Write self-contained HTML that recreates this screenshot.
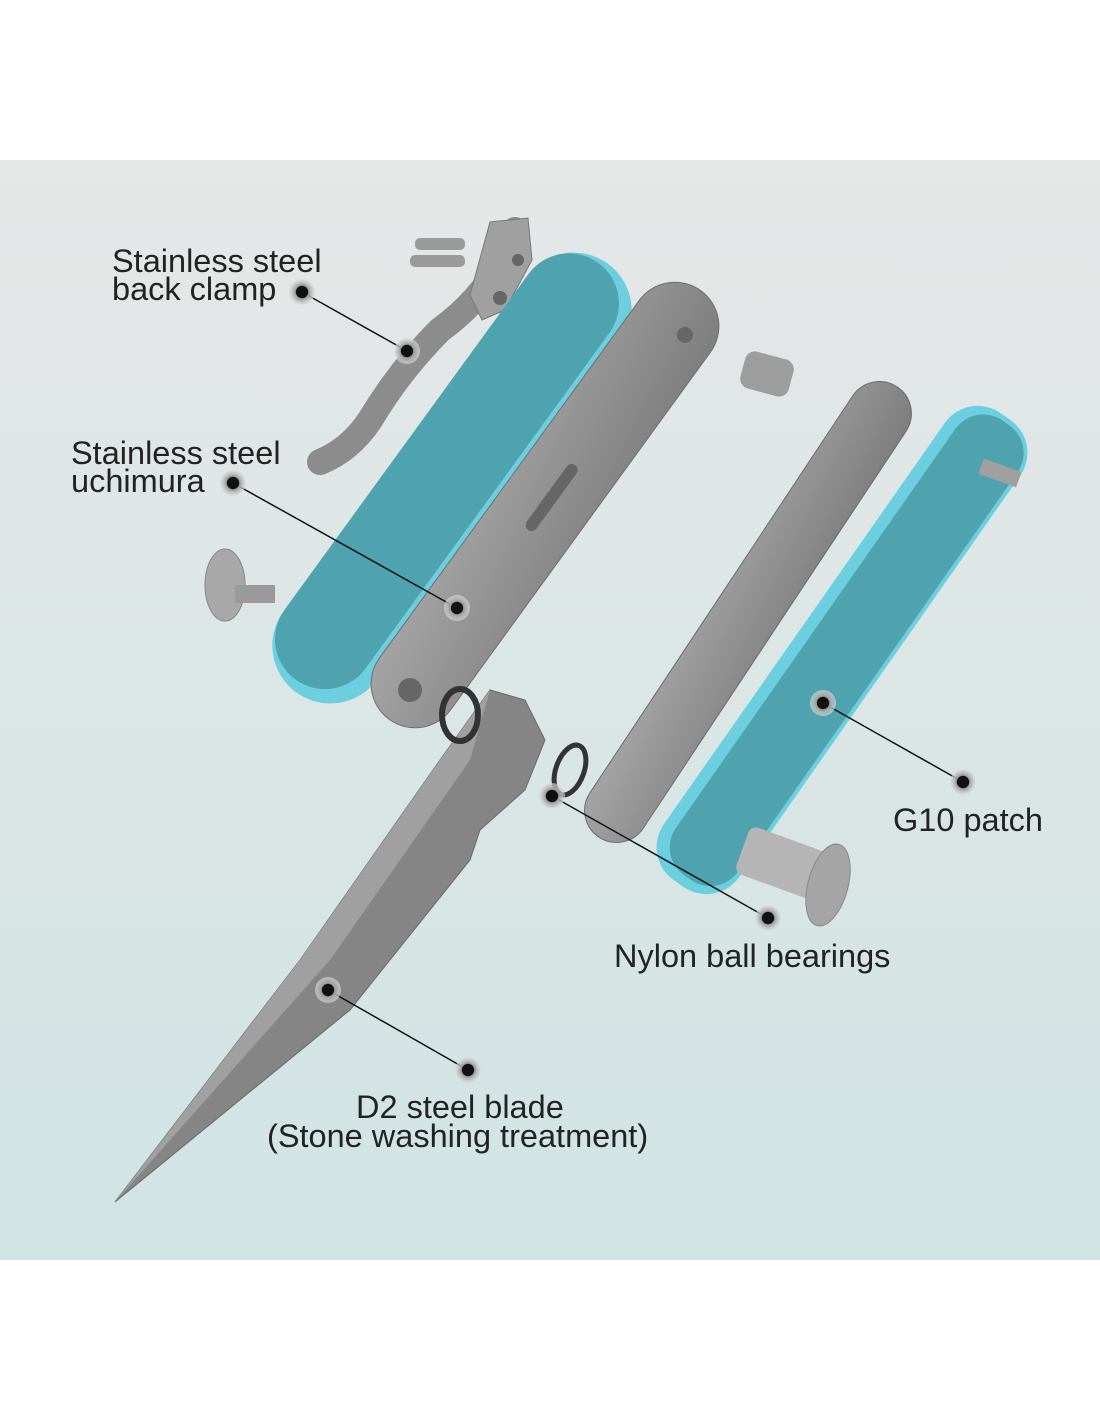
<!DOCTYPE html>
<html><head><meta charset="utf-8"><style>
html,body{margin:0;padding:0;background:#fff;}
svg{display:block}
text{font-family:"Liberation Sans",sans-serif;font-size:32.5px;fill:#222;}
</style></head><body>
<svg width="1100" height="1422" viewBox="0 0 1100 1422">
<defs>
<linearGradient id="bg" x1="0" y1="0" x2="0" y2="1">
<stop offset="0" stop-color="#e6e7e7"/><stop offset="1" stop-color="#d0e4e3"/></linearGradient>
<linearGradient id="steel" x1="0" y1="0" x2="1" y2="1">
<stop offset="0" stop-color="#a5a5a5"/><stop offset="1" stop-color="#7d7d7d"/></linearGradient>
<radialGradient id="ring"><stop offset="0.45" stop-color="#111"/><stop offset="0.5" stop-color="#999"/><stop offset="1" stop-color="#ddd" stop-opacity="0.6"/></radialGradient>
</defs>
<rect x="0" y="160" width="1100" height="1100" fill="url(#bg)"/>
<!-- clip -->
<path d="M515,230 Q495,290 440,330 Q400,370 370,420 Q350,450 320,462" fill="none" stroke="#8c8c8c" stroke-width="26" stroke-linecap="round"/>
<path d="M490,222 L528,218 L532,260 L505,310 L482,320 L470,295 Z" fill="#a0a0a0" stroke="#777"/>
<circle cx="500" cy="298" r="7" fill="#666"/><circle cx="518" cy="260" r="6" fill="#666"/>
<g fill="#9a9a9a"><rect x="410" y="255" width="55" height="12" rx="5"/><rect x="415" y="238" width="50" height="12" rx="5"/><rect x="530" y="270" width="40" height="10" rx="4"/></g>
<!-- left scale -->
<g transform="translate(452,478) rotate(-54)">
<rect x="-265" y="-58" width="530" height="116" rx="58" fill="#6ccfe0"/>
<rect x="-255" y="-58" width="515" height="100" rx="50" fill="#4fa3ae"/>
</g>
<!-- screw left -->
<ellipse cx="225" cy="585" rx="20" ry="36" fill="#a8a8a8" stroke="#888"/>
<rect x="235" y="585" width="40" height="18" fill="#9a9a9a"/>
<!-- left liner -->
<g transform="translate(545,505) rotate(-54)">
<rect x="-265" y="-44" width="530" height="88" rx="44" fill="url(#steel)" stroke="#6f6f6f"/>
<rect x="-30" y="-5" width="80" height="12" rx="6" fill="#666"/>
</g>
<circle cx="410" cy="690" r="12" fill="#666"/><circle cx="685" cy="335" r="8" fill="#666"/>
<!-- spacer -->
<rect x="742" y="355" width="50" height="38" rx="10" fill="#9d9d9d" transform="rotate(15 767 374)"/>
<!-- blade -->
<path d="M115,1202 L300,960 L440,760 L490,690 L525,700 L545,740 L525,790 L480,830 L470,860 L350,1010 Z" fill="#858585" stroke="#6a6a6a"/>
<path d="M115,1202 L300,960 L440,760 L490,690 L470,760 L330,960 Z" fill="#a0a0a0"/>
<ellipse cx="460" cy="715" rx="18" ry="26" fill="none" stroke="#333" stroke-width="6"/>
<ellipse cx="570" cy="770" rx="14" ry="26" fill="none" stroke="#333" stroke-width="5" transform="rotate(20 570 770)"/>
<!-- right liner -->
<g transform="translate(748,612) rotate(-56.5)">
<rect x="-270" y="-32" width="540" height="64" rx="32" fill="url(#steel)" stroke="#6a6a6a"/>
</g>
<!-- right scale -->
<g transform="translate(842,650) rotate(-55)">
<rect x="-285" y="-46" width="570" height="92" rx="40" fill="#6ccfe0"/>
<rect x="-275" y="-34" width="555" height="76" rx="34" fill="#4fa3ae"/>
</g>
<rect x="980" y="465" width="40" height="16" fill="#a0a0a0" transform="rotate(20 1000 473)"/>
<!-- pivot pin -->
<rect x="740" y="838" width="85" height="50" rx="8" fill="#b5b5b5" transform="rotate(20 782 863)"/>
<ellipse cx="828" cy="885" rx="20" ry="42" fill="#a5a5a5" stroke="#888" transform="rotate(15 828 885)"/>
<!-- connectors -->
<g stroke="#111" stroke-width="1.5">
<line x1="302" y1="292" x2="407" y2="351"/>
<line x1="233" y1="483" x2="457" y2="608"/>
<line x1="963" y1="782" x2="823" y2="703"/>
<line x1="768" y1="918" x2="552" y2="796"/>
<line x1="468" y1="1070" x2="328" y2="990"/>
</g>
<g fill="url(#ring)">
<circle cx="302" cy="292" r="13"/><circle cx="407" cy="351" r="13"/>
<circle cx="233" cy="483" r="13"/><circle cx="457" cy="608" r="13"/>
<circle cx="963" cy="782" r="13"/><circle cx="823" cy="703" r="13"/>
<circle cx="768" cy="918" r="13"/><circle cx="552" cy="796" r="13"/>
<circle cx="468" cy="1070" r="13"/><circle cx="328" cy="990" r="13"/>
</g>
<text x="112" y="272">Stainless steel</text>
<text x="112" y="300">back clamp</text>
<text x="71" y="464">Stainless steel</text>
<text x="71" y="492">uchimura</text>
<text x="893" y="831">G10 patch</text>
<text x="614" y="967">Nylon ball bearings</text>
<text x="356" y="1118">D2 steel blade</text>
<text x="267" y="1147">(Stone washing treatment)</text>
</svg>
</body></html>
